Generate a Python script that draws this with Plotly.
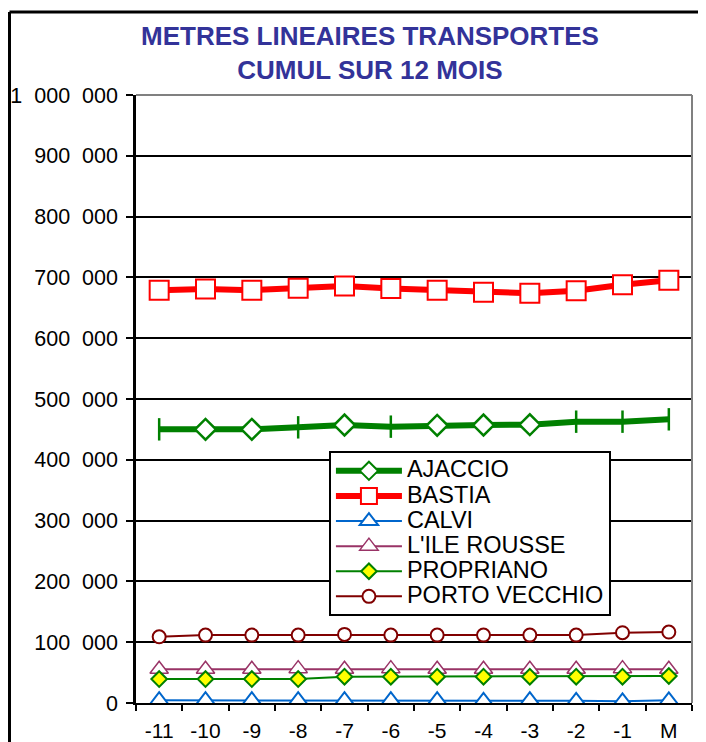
import plotly.graph_objects as go

months = ["-11", "-10", "-9", "-8", "-7", "-6", "-5", "-4", "-3", "-2", "-1", "M"]

ajaccio = [450100, 450100, 450100, 453400, 457200, 454500, 456700, 457200, 457800, 462700, 462700, 466600]
bastia = [679000, 681000, 679000, 682000, 686000, 681700, 679000, 675600, 674000, 678000, 688000, 695500]
calvi = [4500, 4500, 4500, 4500, 4500, 4500, 4500, 3500, 4500, 3500, 2800, 4400]
ile_rousse = [55500, 55500, 55500, 56500, 55500, 56500, 55500, 55500, 55500, 55500, 56500, 55500]
propriano = [39400, 39400, 39400, 39400, 43300, 43300, 43300, 43300, 43300, 43300, 43300, 44400]
porto_vecchio = [108900, 111700, 111700, 111700, 112800, 111700, 111700, 111700, 111700, 111700, 115600, 116700]

series_names = ["AJACCIO", "BASTIA", "CALVI", "L'ILE ROUSSE", "PROPRIANO", "PORTO VECCHIO"]

# Symbols as they appear on the reference (some Ajaccio markers render as vertical bars)
ajaccio_symbols = ["line-ns", "diamond", "diamond", "line-ns", "diamond", "line-ns",
                   "diamond", "diamond", "diamond", "line-ns", "line-ns", "line-ns"]

y_ticks = [0, 100000, 200000, 300000, 400000, 500000, 600000, 700000, 800000, 900000, 1000000]
y_tick_text = ["0", "100\u2007000", "200\u2007000", "300\u2007000", "400\u2007000", "500\u2007000",
               "600\u2007000", "700\u2007000", "800\u2007000", "900\u2007000", "1\u2007000\u2007000"]

title_lines = ["METRES LINEAIRES TRANSPORTES", "CUMUL SUR 12 MOIS"]

GREEN = "#008000"
RED = "#FF0000"
BLUE = "#0066CC"
PURPLE = "#993366"
YELLOW = "#FFFF00"
MAROON = "#800000"


def lname(s):
    return "<span style='font-size:23.5px'>" + s + "</span>"


fig = go.Figure()

# legend entry for Ajaccio (diamond sample)
fig.add_trace(go.Scatter(
    x=[None], y=[None], name=lname(series_names[0]), mode="lines+markers",
    line=dict(color=GREEN, width=6),
    marker=dict(symbol="diamond", size=14, color="white", line=dict(color=GREEN, width=2)),
))
fig.add_trace(go.Scatter(
    x=months, y=ajaccio, name=series_names[0], mode="lines+markers", showlegend=False,
    line=dict(color=GREEN, width=6),
    marker=dict(symbol=ajaccio_symbols, size=16, color="white", line=dict(color=GREEN, width=2.5)),
))
fig.add_trace(go.Scatter(
    x=months, y=bastia, name=lname(series_names[1]), mode="lines+markers",
    line=dict(color=RED, width=6),
    marker=dict(symbol="square", size=19, color="white", line=dict(color=RED, width=2)),
))
fig.add_trace(go.Scatter(
    x=months, y=calvi, name=lname(series_names[2]), mode="lines+markers",
    line=dict(color=BLUE, width=2),
    marker=dict(symbol="triangle-up", size=16, color="white", line=dict(color=BLUE, width=2)),
))
fig.add_trace(go.Scatter(
    x=months, y=ile_rousse, name=lname(series_names[3]), mode="lines+markers",
    line=dict(color=PURPLE, width=2),
    marker=dict(symbol="triangle-up", size=16, color="white", line=dict(color=PURPLE, width=1.5)),
))
fig.add_trace(go.Scatter(
    x=months, y=propriano, name=lname(series_names[4]), mode="lines+markers",
    line=dict(color=GREEN, width=2),
    marker=dict(symbol="diamond", size=12, color=YELLOW, line=dict(color=GREEN, width=2)),
))
fig.add_trace(go.Scatter(
    x=months, y=porto_vecchio, name=lname(series_names[5]), mode="lines+markers",
    line=dict(color=MAROON, width=2),
    marker=dict(symbol="circle", size=13, color="white", line=dict(color=MAROON, width=2)),
))

FONT = "Liberation Sans, Arial, sans-serif"

fig.update_layout(
    width=706, height=742,
    margin=dict(l=128, r=22, t=87, b=47, autoexpand=False),
    paper_bgcolor="white", plot_bgcolor="white",
    font=dict(family=FONT, size=21, color="black"),
    showlegend=True,
    legend=dict(
        x=0.347, y=0.414, xanchor="left", yanchor="top",
        bgcolor="white", bordercolor="black", borderwidth=2,
        font=dict(family=FONT, size=17, color="black"),
        itemwidth=66, tracegroupgap=0,
    ),
    xaxis=dict(
        type="category", categoryorder="array", categoryarray=months,
        range=[-0.5, 11.5], automargin=False,
        showgrid=False, zeroline=False,
        showline=True, linecolor="black", linewidth=2,
        ticks="outside", tickson="boundaries", ticklen=6, tickwidth=1.5, tickcolor="black",
        tickfont=dict(family=FONT, size=21, color="black"),
        ticklabelstandoff=8,
    ),
    yaxis=dict(
        range=[0, 1000000], automargin=False,
        tickvals=y_ticks, ticktext=y_tick_text,
        showgrid=True, gridcolor="black", gridwidth=1.5,
        zeroline=True, zerolinecolor="black", zerolinewidth=2,
        showline=True, linecolor="black", linewidth=2.5,
        ticks="outside", ticklen=7, tickwidth=1.5, tickcolor="black",
        tickfont=dict(family=FONT, size=21.5, color="black"),
        ticklabelstandoff=4,
    ),
    annotations=[dict(
        text="<b>" + title_lines[0] + "</b><br><b>" + title_lines[1] + "</b>",
        xref="paper", yref="paper", x=(370 - 136) / 556, y=(703 - 53) / 608,
        xanchor="center", yanchor="middle", showarrow=False,
        font=dict(family=FONT, size=26, color="#333399"),
    )],
    shapes=[
        # gray plot-area border on top and right
        dict(type="line", xref="paper", yref="paper", x0=0, x1=1, y0=1, y1=1,
             line=dict(color="#808080", width=2), layer="above"),
        dict(type="line", xref="paper", yref="paper", x0=1, x1=1, y0=0, y1=1,
             line=dict(color="#808080", width=2), layer="above"),
        # outer chart border (left and top)
        dict(type="line", xref="paper", yref="paper", x0=(1.5 - 128) / 556, x1=(1.5 - 128) / 556,
             y0=-0.2, y1=(695 - 4) / 608,
             line=dict(color="black", width=3)),
        dict(type="line", xref="paper", yref="paper", x0=(1.5 - 128) / 556, x1=1.2,
             y0=(695 - 4) / 608, y1=(695 - 4) / 608,
             line=dict(color="black", width=3)),
    ],
)

fig.write_html("out.html")
